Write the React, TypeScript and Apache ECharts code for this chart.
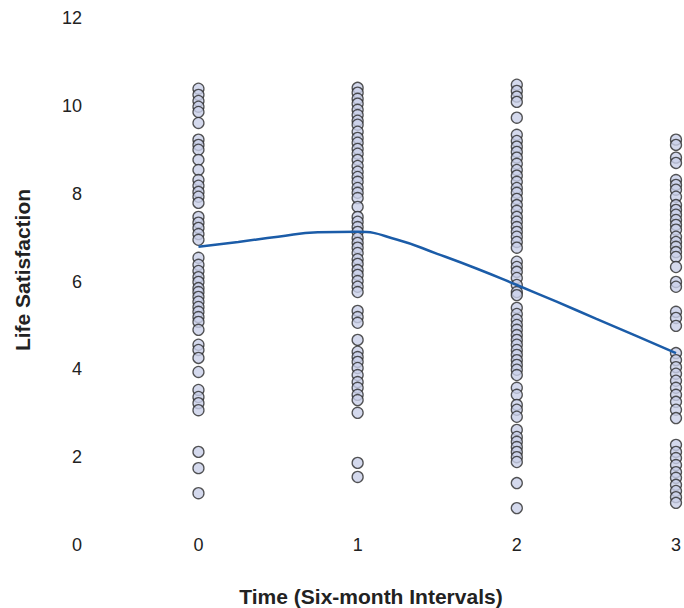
import React, { useEffect, useRef } from "react";
import * as echarts from "echarts";

const xTicks = [0, 1, 2, 3];
const yTicks = [0, 2, 4, 6, 8, 10, 12];

const time0 = [10.39, 10.25, 10.11, 9.98, 9.86, 9.61, 9.23, 9.11, 9.0, 8.77, 8.54, 8.31, 8.18, 8.04, 7.93, 7.79, 7.47, 7.34, 7.22, 7.08, 6.95, 6.54, 6.38, 6.24, 6.1, 5.99, 5.85, 5.76, 5.65, 5.54, 5.42, 5.31, 5.19, 5.08, 4.9, 4.56, 4.44, 4.26, 3.94, 3.53, 3.37, 3.23, 3.07, 2.12, 1.75, 1.18];
const time1 = [10.41, 10.3, 10.16, 10.05, 9.91, 9.79, 9.66, 9.57, 9.41, 9.27, 9.16, 9.02, 8.91, 8.77, 8.63, 8.5, 8.38, 8.27, 8.13, 8.02, 7.9, 7.7, 7.47, 7.36, 7.24, 7.13, 6.99, 6.88, 6.77, 6.65, 6.51, 6.4, 6.26, 6.15, 6.01, 5.88, 5.76, 5.33, 5.19, 5.06, 4.67, 4.4, 4.28, 4.17, 4.03, 3.87, 3.71, 3.58, 3.42, 3.3, 3.01, 1.87, 1.55];
const time2 = [10.48, 10.34, 10.21, 10.09, 9.73, 9.34, 9.2, 9.07, 8.95, 8.82, 8.68, 8.54, 8.41, 8.27, 8.13, 8.02, 7.88, 7.74, 7.61, 7.47, 7.36, 7.24, 7.13, 7.02, 6.9, 6.77, 6.45, 6.33, 6.22, 6.08, 5.92, 5.76, 5.69, 5.4, 5.26, 5.13, 5.01, 4.9, 4.78, 4.67, 4.56, 4.44, 4.33, 4.21, 4.1, 3.99, 3.87, 3.58, 3.42, 3.19, 3.08, 2.92, 2.62, 2.46, 2.35, 2.23, 2.12, 2.0, 1.89, 1.41, 0.84];
const time3 = [9.23, 9.11, 8.82, 8.7, 8.31, 8.2, 8.09, 7.93, 7.74, 7.63, 7.52, 7.4, 7.29, 7.18, 7.02, 6.9, 6.79, 6.67, 6.56, 6.33, 5.99, 5.88, 5.31, 5.17, 4.99, 4.37, 4.21, 4.05, 3.9, 3.74, 3.58, 3.42, 3.26, 3.08, 2.89, 2.28, 2.12, 1.98, 1.82, 1.66, 1.53, 1.37, 1.23, 1.09, 0.96];
const groups = [time0, time1, time2, time3];

const trendX = [0, 0.25, 0.5, 0.75, 1, 1.25, 1.5, 1.75, 2, 2.25, 2.5, 2.75, 3];
const trendY = [6.79, 6.9, 7.02, 7.12, 7.13, 6.95, 6.63, 6.29, 5.92, 5.54, 5.15, 4.76, 4.37];

const FONT = "'Liberation Sans', Arial, Helvetica, sans-serif";

export default function App() {
  const ref = useRef<HTMLDivElement>(null);
  useEffect(() => {
    document.body.style.margin = "0";
    if (!ref.current) return;
    const chart = echarts.init(ref.current, null, { renderer: "svg" });
    const points: number[][] = [];
    groups.forEach((g, i) => g.forEach((v) => points.push([xTicks[i], v])));
    chart.setOption({
      animation: false,
      backgroundColor: "#ffffff",
      grid: { left: 95, right: 6, top: 18, bottom: 63, containLabel: false },
      xAxis: {
        type: "value",
        min: -0.65,
        max: 3,
        axisLine: { show: false },
        axisTick: { show: false },
        splitLine: { show: false },
        axisLabel: {
          customValues: xTicks,
          verticalAlign: "middle",
          margin: 0,
          fontSize: 18,
          color: "#222",
          fontFamily: FONT,
        },
      },
      yAxis: {
        type: "value",
        min: 0,
        max: 12,
        interval: 2,
        axisLine: { show: false },
        axisTick: { show: false },
        splitLine: { show: false },
        axisLabel: {
          customValues: yTicks,
          margin: 13,
          fontSize: 18,
          color: "#222",
          fontFamily: FONT,
        },
      },
      series: [
        {
          type: "scatter",
          data: points,
          symbol: "circle",
          symbolSize: 11,
          clip: false,
          itemStyle: { color: "#c9d0e9", borderColor: "#2a2a2a", borderWidth: 1.3 },
          z: 2,
        },
        {
          type: "line",
          data: trendX.map((x, i) => [x, trendY[i]]),
          smooth: 0.5,
          showSymbol: false,
          lineStyle: { color: "#1b5ca8", width: 2.5 },
          z: 3,
        },
      ],
      graphic: [
        {
          type: "text",
          x: 371,
          y: 596,
          style: {
            text: "Time (Six-month Intervals)",
            font: `bold 21px ${FONT}`,
            fill: "#222",
            align: "center",
            verticalAlign: "middle",
          },
        },
        {
          type: "text",
          x: 22,
          y: 270,
          rotation: Math.PI / 2,
          style: {
            text: "Life Satisfaction",
            font: `bold 21px ${FONT}`,
            fill: "#222",
            align: "center",
            verticalAlign: "middle",
          },
        },
      ],
    });
    return () => chart.dispose();
  }, []);
  return <div ref={ref} style={{ width: 684, height: 608 }} />;
}
